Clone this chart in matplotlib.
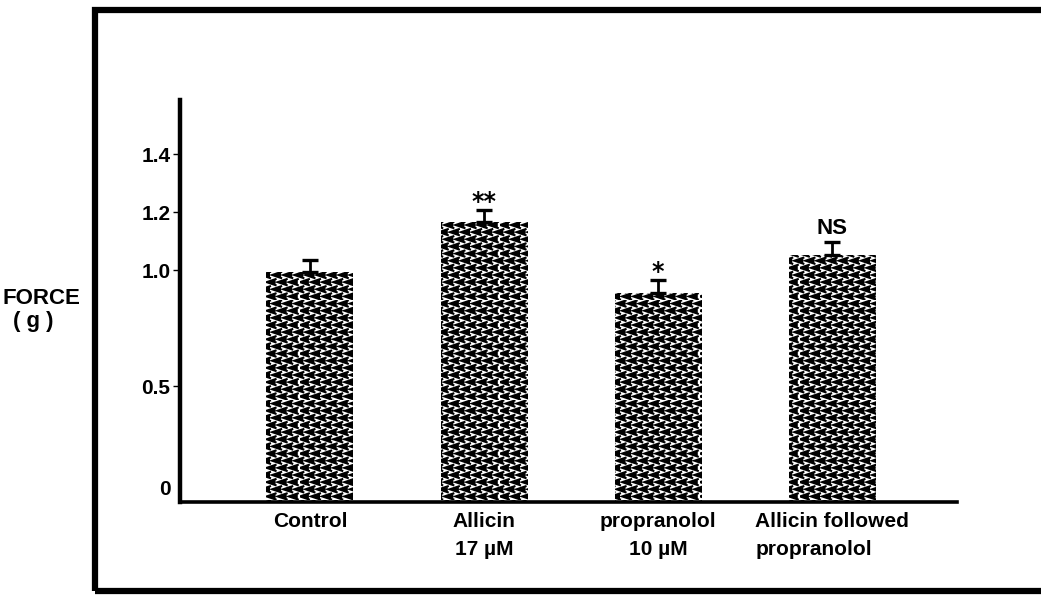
import warnings
import numpy as np
import matplotlib
matplotlib.use("Agg")
import matplotlib.pyplot as plt
import matplotlib.hatch as mhatch
from matplotlib.path import Path
from matplotlib.patches import Rectangle

warnings.filterwarnings("ignore")

# ---------------- data ----------------
categories = ["Control", "Allicin\n17 µM", "propranolol\n10 µM", "Allicin followed\npropranolol"]
force_values = [0.99, 1.167, 0.902, 1.052]
force_errors = [0.044, 0.040, 0.055, 0.046]
significance = ["", "**", "*", "NS"]
ytick_values = [0.5, 1.0, 1.2, 1.4]
ytick_labels = ["0.5", "1.0", "1.2", "1.4"]
ylabel_lines = ["FORCE", "( g )"]

plt.rcParams['font.family'] = ['Liberation Sans', 'DejaVu Sans']
plt.rcParams['font.weight'] = 'bold'
plt.rcParams['hatch.linewidth'] = 1.5


# ------------- herringbone hatch -------------
class Herringbone(mhatch.HatchPatternBase):
    def __init__(self, hatch, density):
        self.nx, self.ny = 9, 14
        self.items = []
        if 'h' in hatch:
            for j in range(self.ny):
                shift = 0.5 if j % 2 else 0.0
                start = -1 if shift else 0
                for i in range(start, self.nx):
                    self.items.append(((i + shift) / self.nx, j / self.ny))
        self.num_vertices = len(self.items) * 3

    def set_vertices_and_codes(self, vertices, codes):
        w = 0.8 / self.nx
        h = 1.0 / self.ny
        for k, (x, y) in enumerate(self.items):
            vertices[3 * k:3 * k + 3] = [(x + w, y + h * 0.92), (x, y + h * 0.5), (x + w, y + h * 0.08)]
            codes[3 * k:3 * k + 3] = [Path.MOVETO, Path.LINETO, Path.LINETO]


mhatch._hatch_types.append(Herringbone)


def fwd(y):
    y = np.asarray(y, dtype=float)
    return np.where(y <= 1.0, y, 1.0 + (y - 1.0) * 1.25)


def inv(t):
    t = np.asarray(t, dtype=float)
    return np.where(t <= 1.0, t, 1.0 + (t - 1.0) / 1.25)


W, H = 1041, 595
fig = plt.figure(figsize=(W / 100, H / 100), dpi=100)
ax = fig.add_axes([180 / W, 93 / H, 777 / W, 402 / H])
ax.set_yscale('function', functions=(fwd, inv))

pos = np.arange(len(categories))
ax.bar(pos, force_values, width=0.5, color='white', edgecolor='black',
       linewidth=0, hatch='h', zorder=2)
ax.errorbar(pos, force_values, yerr=[np.zeros(len(pos)), force_errors],
            fmt='none', ecolor='black', elinewidth=2.0, capsize=5.8,
            capthick=2.4, zorder=3)

for x, v, e, s in zip(pos, force_values, force_errors, significance):
    if not s:
        continue
    if s == "NS":
        ax.annotate(s, xy=(x, v + e), xytext=(0, 2), textcoords='offset points',
                    ha='center', va='bottom', fontsize=16, fontweight='bold')
    else:
        ax.annotate(s, xy=(x, v + e), xytext=(0, -3), textcoords='offset points',
                    ha='center', va='bottom', fontsize=17, fontweight='bold',
                    family='DejaVu Sans')

ax.set_xlim(-0.747, 3.718)
ax.set_ylim(0, inv(1.733))

ax.set_yticks(ytick_values, ytick_labels)
ax.set_xticks(pos, categories)
for lbl in ax.get_xticklabels():
    lbl.set_linespacing(1.65)
ax.get_xticklabels()[3].set_multialignment('left')

ax.tick_params(axis='y', length=5, width=1, pad=2, labelsize=15)
ax.tick_params(axis='x', length=0, pad=7, labelsize=15)
ax.annotate("0", xy=(0, 0), xycoords=('axes fraction', 'data'),
            xytext=(-7, 9), textcoords='offset points', ha='right', va='center',
            fontsize=15, fontweight='bold')

for side in ('top', 'right'):
    ax.spines[side].set_visible(False)
ax.spines['left'].set_linewidth(3.2)
ax.spines['bottom'].set_linewidth(2.6)

fig.text(3 / W, 1 - 298 / H, ylabel_lines[0], ha='left', va='center', fontsize=16, fontweight='bold')
fig.text(13 / W, 1 - 322 / H, ylabel_lines[1], ha='left', va='center', fontsize=16, fontweight='bold')

frame = Rectangle((94.5 / W, 4 / H), 1.2, (585.5 - 4) / H, transform=fig.transFigure,
                  fill=False, lw=4.5, ec='black', clip_on=False)
fig.add_artist(frame)

fig.savefig("out.png", dpi=100)
